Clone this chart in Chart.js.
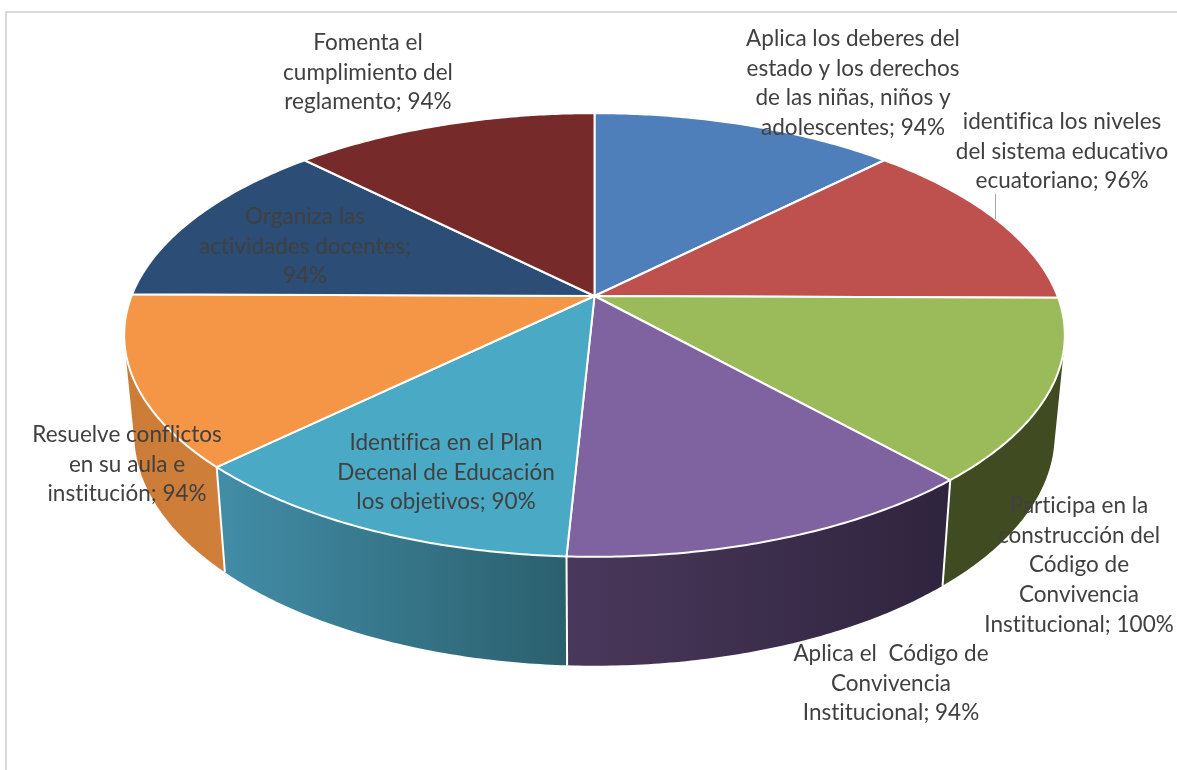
<!DOCTYPE html>
<html>
<head>
<meta charset="utf-8">
<title>Pie</title>
<script src="https://cdn.jsdelivr.net/npm/chart.js@4"></script>
<style>
  html, body { margin: 0; padding: 0; background: #fff; overflow: hidden; }
  canvas { display: block; }
</style>
</head>
<body>
<canvas id="myChart" width="1177" height="770"></canvas>
<script>
// slices run clockwise from 12 o'clock
const categories = [
  ['Aplica los deberes del', 'estado y los derechos', 'de las niñas, niños y', 'adolescentes; 94%'],
  ['identifica los niveles', 'del sistema educativo', 'ecuatoriano; 96%'],
  ['Participa en la', 'construcción del', 'Código de', 'Convivencia', 'Institucional; 100%'],
  ['Aplica el  Código de', 'Convivencia', 'Institucional; 94%'],
  ['Identifica en el Plan', 'Decenal de Educación', 'los objetivos; 90%'],
  ['Resuelve conflictos', 'en su aula e', 'institución; 94%'],
  ['Organiza las', 'actividades docentes;', '94%'],
  ['Fomenta el', 'cumplimiento del', 'reglamento; 94%']
];
const values = [94, 96, 100, 94, 90, 94, 94, 94];
const topColors = ['#4F7FBB', '#BE504D', '#9BBB5A', '#7F62A0', '#4AA9C4', '#F49645', '#2B4D76', '#772A2A'];
const wallLeft = ['#4F7FBB', '#8E3B39', '#404B22', '#4A385C', '#428DA7', '#CB7C37', '#2B4D76', '#772A2A'];
const wallRight = ['#4F7FBB', '#8E3B39', '#404B22', '#2F243E', '#2B606E', '#D07F3A', '#2B4D76', '#772A2A'];

// centre of the first text line of each label
const labelX = [853, 1062, 1079, 891, 446, 127, 305, 368];
const labelY = [39, 122, 506, 654, 443, 435, 217, 43];
const lineHeight = 29.6;

// tilted disc: top face and bottom face share the same perspective
const tilt = 0.1757;
const topDisc = { x: 594.5, y: 296, rx: 463, ry: 215 };
const bottomDisc = { x: 594.5, y: 394, rx: 453, ry: 224 };

function project(disc, angle) {
  const u = Math.cos(angle);
  const v = Math.sin(angle);
  const w = 1 / (1 - tilt * v);
  return { x: disc.x + disc.rx * u * w, y: disc.y + disc.ry * v * w };
}

function rimAngles(start, end) {
  const steps = Math.max(2, Math.ceil((end - start) / 0.01));
  const list = [];
  for (let i = 0; i <= steps; i++) {
    list.push(start + (end - start) * i / steps);
  }
  return list;
}

// adds a quad to the path, always wound the same way so overlaps stay filled
function addQuad(ctx, pts) {
  let area = 0;
  pts.forEach((p, i) => {
    const q = pts[(i + 1) % pts.length];
    area += p.x * q.y - q.x * p.y;
  });
  const list = area < 0 ? pts.slice().reverse() : pts;
  ctx.moveTo(list[0].x, list[0].y);
  list.slice(1).forEach(p => ctx.lineTo(p.x, p.y));
  ctx.closePath();
}

function drawWalls(ctx, arcs) {
  // far walls first so the nearer ones paint over them
  const order = arcs.map((arc, i) => i).sort((a, b) => {
    const ma = (arcs[a].startAngle + arcs[a].endAngle) / 2;
    const mb = (arcs[b].startAngle + arcs[b].endAngle) / 2;
    return Math.sin(ma) - Math.sin(mb);
  });
  order.forEach(i => {
    const angles = rimAngles(arcs[i].startAngle, arcs[i].endAngle);
    const xs = angles.map(a => project(topDisc, a).x);
    const grad = ctx.createLinearGradient(Math.min(...xs), 0, Math.max(...xs), 0);
    grad.addColorStop(0, wallLeft[i]);
    grad.addColorStop(1, wallRight[i]);
    ctx.fillStyle = grad;
    // one path per wall, the strips overlap without seams
    ctx.beginPath();
    for (let k = 0; k < angles.length - 1; k++) {
      addQuad(ctx, [
        project(topDisc, angles[k]),
        project(topDisc, angles[k + 1]),
        project(bottomDisc, angles[k + 1]),
        project(bottomDisc, angles[k])
      ]);
    }
    ctx.fill();
  });
  // white seams between the front walls
  ctx.strokeStyle = '#fff';
  ctx.lineWidth = 2;
  arcs.forEach(arc => {
    if (Math.sin(arc.startAngle) > 0.3) {
      const a = project(topDisc, arc.startAngle);
      const b = project(bottomDisc, arc.startAngle);
      ctx.beginPath();
      ctx.moveTo(a.x, a.y);
      ctx.lineTo(b.x, b.y);
      ctx.stroke();
    }
  });
}

function drawTop(ctx, arcs) {
  arcs.forEach(arc => {
    ctx.beginPath();
    ctx.moveTo(topDisc.x, topDisc.y);
    rimAngles(arc.startAngle, arc.endAngle).forEach(a => {
      const p = project(topDisc, a);
      ctx.lineTo(p.x, p.y);
    });
    ctx.closePath();
    ctx.fillStyle = arc.options.backgroundColor;
    ctx.fill();
    ctx.strokeStyle = '#fff';
    ctx.lineWidth = 2;
    ctx.lineJoin = 'round';
    ctx.stroke();
  });
}

const discPlugin = {
  id: 'disc',
  beforeDraw(chart) {
    const ctx = chart.ctx;
    ctx.save();
    ctx.fillStyle = '#fff';
    ctx.fillRect(0, 0, chart.width, chart.height);
    // chart frame
    ctx.strokeStyle = '#D9D9D9';
    ctx.lineWidth = 2;
    ctx.beginPath();
    ctx.moveTo(1177, 12);
    ctx.lineTo(6, 12);
    ctx.lineTo(6, 770);
    ctx.stroke();
    ctx.restore();
  },
  beforeDatasetDraw(chart, args) {
    const ctx = chart.ctx;
    const arcs = args.meta.data;
    ctx.save();
    drawWalls(ctx, arcs);
    drawTop(ctx, arcs);
    ctx.restore();
    return false;
  },
  afterDatasetsDraw(chart) {
    const ctx = chart.ctx;
    ctx.save();
    // leader line of the second label
    ctx.strokeStyle = '#A6A6A6';
    ctx.lineWidth = 1;
    ctx.beginPath();
    ctx.moveTo(995.5, 194);
    ctx.lineTo(995.5, 219);
    ctx.stroke();

    ctx.font = '22.5px Lato';
    ctx.letterSpacing = '0.01px'; // keeps "fi" from joining into a ligature
    ctx.fillStyle = '#404040';
    ctx.textAlign = 'center';
    ctx.textBaseline = 'middle';
    chart.data.labels.forEach((lines, i) => {
      lines.forEach((line, n) => {
        ctx.fillText(line, labelX[i], labelY[i] + n * lineHeight);
      });
    });
    ctx.restore();
  }
};

window.onload = function() {
  const ctx = document.getElementById('myChart').getContext('2d');
  new Chart(ctx, {
    type: 'pie',
    data: {
      labels: categories,
      datasets: [{ data: values, backgroundColor: topColors, borderWidth: 0 }]
    },
    options: {
      responsive: false,
      animation: false,
      plugins: { legend: { display: false }, tooltip: { enabled: false } }
    },
    plugins: [discPlugin]
  });
};
</script>
</body>
</html>
